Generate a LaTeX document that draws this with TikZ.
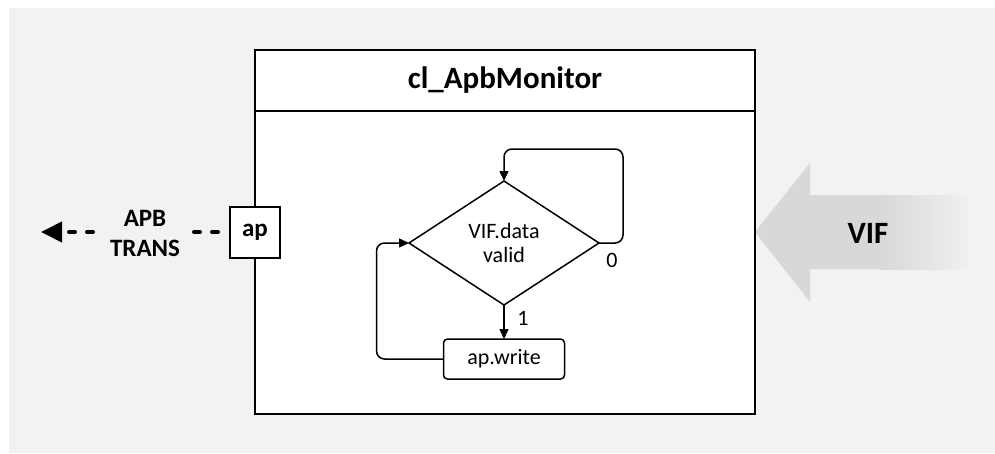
\documentclass[tikz,border=0pt]{standalone}
\usepackage{fontspec}
\setmainfont{Carlito}
\usetikzlibrary{arrows.meta,shapes.geometric}
\definecolor{bg}{HTML}{F2F2F2}
\definecolor{vifgray}{HTML}{D8D8D8}
\definecolor{vifend}{HTML}{F0F0F0}

\tikzset{
  frame/.style={draw=black, fill=white, line width=2pt, outer sep=0pt, inner sep=0pt},
  titletext/.style={font=\fontsize{31}{33}\selectfont\bfseries},
  porttext/.style={font=\fontsize{25}{30}\selectfont\bfseries},
  flowtext/.style={font=\fontsize{22}{24}\selectfont},
  cond/.style={diamond, draw=black, fill=white, line width=1.5pt, outer sep=0pt,
    inner sep=0pt, minimum width=190pt, minimum height=124pt, align=center, flowtext},
  action/.style={draw=black, fill=white, line width=1.5pt, rounded corners=4pt,
    outer sep=0pt, minimum width=121pt, minimum height=40pt, flowtext},
  flow/.style={draw=black, line width=1.5pt, -{Triangle[length=10pt,width=9pt]}},
  dashline/.style={draw=black, line width=4pt, line cap=round, dash pattern=on 6pt off 12pt},
}

\begin{document}
\begin{tikzpicture}[x=1pt,y=-1pt]
\useasboundingbox (0,0) rectangle (995,453);
\fill[bg] (9,8) rectangle (995,453);

% incoming interface arrow with fading tail
\fill[vifgray] (755,232) -- (810,163) -- (810,195) -- (880,195)
  -- (880,269) -- (810,269) -- (810,302) -- cycle;
\shade[left color=vifgray, right color=vifend] (879.5,195) rectangle (968,269);
\node[titletext] (vif) at (868,233) {VIF};

% monitor class box
\node[frame, minimum width=500pt, minimum height=364pt] (monitor) at (505,232) {};
\draw[line width=2pt] ([yshift=-61pt]monitor.north west) -- ([yshift=-61pt]monitor.north east);
\node[titletext] (title) at (505,80) {cl\_ApbMonitor};

% analysis port and its dashed output towards the left
\node[frame, minimum width=50pt, minimum height=51pt, porttext] (ap) at (255,232) {ap};
\node[porttext, align=center] (apbtrans) at (145,233) {APB\\TRANS};
\coordinate (dashA) at ([xshift=-12pt]ap.west);
\coordinate (dashB) at ([xshift=-36pt]ap.west);
\coordinate (dashC) at ([xshift=-137pt]ap.west);
\coordinate (outtip) at ([xshift=-189pt]ap.west);
\draw[dashline] (dashA) -- (dashB);
\draw[dashline, -{Triangle[length=21pt,width=20pt]}] (dashC) -- (outtip);

% behaviour flow
\node[cond] (valid) at (504,243) {VIF.data\\valid};
\node[action] (write) at (504,359) {ap.write};

\draw[flow, rounded corners=8pt] (valid.east) -- ++(24,0) |- ([yshift=32pt]valid.north) -- (valid.north);
\node[flowtext] (zero) at (612,260) {0};

\draw[flow] (valid.south) -- (write.north);
\node[flowtext] (one) at (523,318) {1};

\draw[flow, rounded corners=8pt] (write.west) -- ++(-67,0) |- (valid.west);
\end{tikzpicture}
\end{document}
